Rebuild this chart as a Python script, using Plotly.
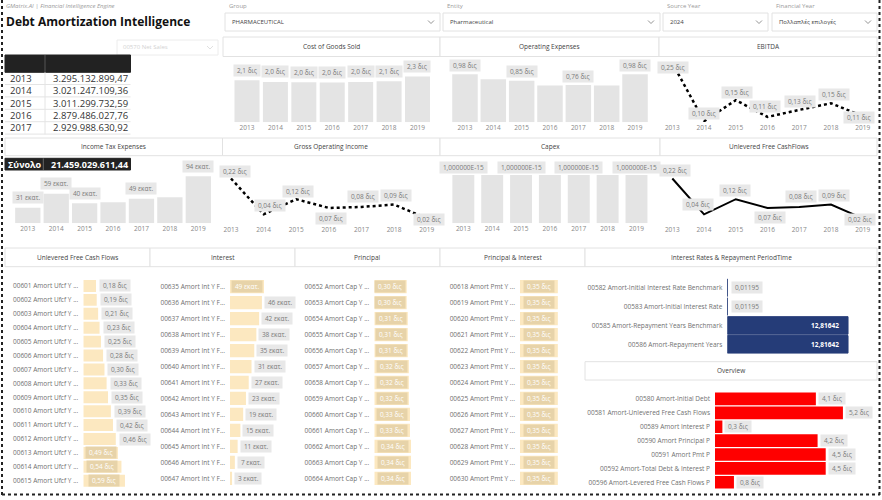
import plotly.graph_objects as go

W, H = 882, 500
FONT = "Open Sans"


def px(x):
    return x / W


def py(y):
    return 1 - y / H


# ---------------- DATA ----------------
years = ["2013", "2014", "2015", "2016", "2017", "2018", "2019"]
year_nums = [2013, 2014, 2015, 2016, 2017, 2018, 2019]

table_years = ["2013", "2014", "2015", "2016", "2017"]
table_values = [3295132899.47, 3021247109.36, 3011299732.59, 2879486027.76, 2929988630.92]
table_total = 21459029611.44

cogs = [2.12, 2.04, 2.02, 2.01, 2.04, 2.08, 2.31]            # δις
opex = [0.98, 0.88, 0.85, 0.75, 0.76, 0.75, 0.98]            # δις
ebitda = [0.25, 0.101, 0.155, 0.112, 0.13, 0.147, 0.114]     # δις
income_tax = [31, 59, 40, 42, 49, 52, 94]                    # εκατ.
gross_op_income = [0.22, 0.04, 0.116, 0.072, 0.077, 0.089, 0.02]  # δις
capex = [1e-15, 1e-15, 1e-15, 1e-15, 1e-15, 1e-15, 1e-15]
ufcf_year = [0.22, 0.04, 0.116, 0.072, 0.077, 0.089, 0.02]   # δις

ufcf_cats = ["00601 Amort Ufcf Y ...", "00602 Amort Ufcf Y ...", "00603 Amort Ufcf Y ...",
             "00604 Amort Ufcf Y ...", "00605 Amort Ufcf Y ...", "00606 Amort Ufcf Y ...",
             "00607 Amort Ufcf Y ...", "00608 Amort Ufcf Y ...", "00609 Amort Ufcf Y ...",
             "00610 Amort Ufcf Y ...", "00611 Amort Ufcf Y ...", "00612 Amort Ufcf Y ...",
             "00613 Amort Ufcf Y ...", "00614 Amort Ufcf Y ...", "00615 Amort Ufcf Y ..."]
ufcf_vals = [0.18, 0.19, 0.21, 0.23, 0.25, 0.28, 0.30, 0.33, 0.35, 0.39, 0.42, 0.46, 0.49, 0.54, 0.59]

int_cats = ["00635 Amort Int Y F...", "00636 Amort Int Y F...", "00637 Amort Int Y F...",
            "00638 Amort Int Y F...", "00639 Amort Int Y F...", "00640 Amort Int Y F...",
            "00641 Amort Int Y F...", "00642 Amort Int Y F...", "00643 Amort Int Y F...",
            "00644 Amort Int Y F...", "00645 Amort Int Y F...", "00646 Amort Int Y F...",
            "00647 Amort Int Y F..."]
int_vals = [49, 46, 42, 38, 35, 31, 27, 23, 19, 15, 11, 7, 3]  # εκατ.

prin_cats = ["00652 Amort Cap Y ...", "00653 Amort Cap Y ...", "00654 Amort Cap Y ...",
             "00655 Amort Cap Y ...", "00656 Amort Cap Y ...", "00657 Amort Cap Y ...",
             "00658 Amort Cap Y ...", "00659 Amort Cap Y ...", "00660 Amort Cap Y ...",
             "00661 Amort Cap Y ...", "00662 Amort Cap Y ...", "00663 Amort Cap Y ...",
             "00664 Amort Cap Y ..."]
prin_vals = [0.30, 0.30, 0.31, 0.31, 0.31, 0.32, 0.32, 0.32, 0.33, 0.33, 0.34, 0.34, 0.34]

pi_cats = ["00618 Amort Pmt Y ...", "00619 Amort Pmt Y ...", "00620 Amort Pmt Y ...",
           "00621 Amort Pmt Y ...", "00622 Amort Pmt Y ...", "00623 Amort Pmt Y ...",
           "00624 Amort Pmt Y ...", "00625 Amort Pmt Y ...", "00626 Amort Pmt Y ...",
           "00627 Amort Pmt Y ...", "00628 Amort Pmt Y ...", "00629 Amort Pmt Y ...",
           "00630 Amort Pmt Y ..."]
pi_vals = [0.35, 0.35, 0.35, 0.35, 0.35, 0.35, 0.35, 0.35, 0.35, 0.35, 0.35, 0.35, 0.35]

rate_cats = ["00582 Amort-Initial Interest Rate Benchmark", "00583 Amort-Initial Interest Rate",
             "00585 Amort-Repayment Years Benchmark", "00586 Amort-Repayment Years"]
rate_vals = [0.01195, 0.01195, 12.81642, 12.81642]

ov_cats = ["00580 Amort-Initial Debt", "00581 Amort-Unlevered Free Cash Flows",
           "00589 Amort Interest P", "00590 Amort Principal P", "00591 Amort Pmt P",
           "00592 Amort-Total Debt & Interest P", "00596 Amort-Levered Free Cash Flows P"]
ov_vals = [4.1, 5.2, 0.3, 4.17, 4.5, 4.5, 0.77]  # δις

# ---------------- STYLE ----------------
GRAY_BAR = "#e4e4e4"
LBL_BG = "#e8e8e8"
LBL_FG = "#7a7a7a"
TAN = "#fce8c0"
TAN_DARK = "#e7d3a9"
NAVY = "#253c78"
RED = "#ff0000"
NB = "&nbsp;"


def gr(v, d):
    s = f"{v:,.{d}f}"
    return s.replace(",", "X").replace(".", ",").replace("X", ".")


def bn(v, d=2):
    return gr(v, d) + " δις"


def mn(v):
    return gr(v, 0) + " εκατ."


fig = go.Figure()
shapes = []
annotations = []
axn = [0]


def axes(x0, x1, y0, y1, xopt, yopt):
    axn[0] += 1
    n = axn[0]
    sx = "" if n == 1 else str(n)
    base = dict(showgrid=False, zeroline=False, showline=False, ticks="", fixedrange=True)
    xa = dict(base, domain=[px(x0), px(x1)], anchor="y" + sx, **xopt)
    ya = dict(base, domain=[py(y1), py(y0)], anchor="x" + sx, **yopt)
    fig.update_layout({"xaxis" + sx: xa, "yaxis" + sx: ya})
    return "x" + sx, "y" + sx


def rect(x0, y0, x1, y1, line="#e2e2e2", fill="white", width=1, layer="below"):
    shapes.append(dict(type="rect", xref="paper", yref="paper", x0=px(x0), x1=px(x1),
                       y0=py(y1), y1=py(y0), line=dict(color=line, width=width),
                       fillcolor=fill, layer=layer))


def line(x0, y0, x1, y1, color="#e2e2e2", width=1, dash=None, layer="above"):
    ln = dict(color=color, width=width)
    if dash:
        ln["dash"] = dash
    shapes.append(dict(type="line", xref="paper", yref="paper", x0=px(x0), x1=px(x1),
                       y0=py(y0), y1=py(y1), line=ln, layer=layer))


def text(x, y, s, size=6.5, color="#444", xanchor="center", yanchor="middle", bold=False,
         italic=False, family=FONT):
    t = s
    if bold:
        t = "<b>" + t + "</b>"
    if italic:
        t = "<i>" + t + "</i>"
    annotations.append(dict(xref="paper", yref="paper", x=px(x), y=py(y), text=t, showarrow=False,
                            font=dict(size=size, color=color, family=family),
                            xanchor=xanchor, yanchor=yanchor))


def chevron(cx, cy, color="#777", s=3):
    path = (f"M {px(cx - s)},{py(cy - s / 2)} L {px(cx)},{py(cy + s / 2)} "
            f"L {px(cx + s)},{py(cy - s / 2)}")
    shapes.append(dict(type="path", xref="paper", yref="paper", path=path,
                       line=dict(color=color, width=0.8)))


def header(x0, y0, x1, y1, title):
    rect(x0, y0, x1, y1)
    text((x0 + x1) / 2, (y0 + y1) / 2, title, size=6.5, color="#444")


def lab(xr, yr, x, y, s, xshift=0, yshift=0, xanchor="center", yanchor="middle",
        bg=LBL_BG, fg=LBL_FG, size=6.5, bold=False):
    t = NB + s + NB
    if bold:
        t = "<b>" + t + "</b>"
    annotations.append(dict(xref=xr, yref=yr, x=x, y=y, text=t,
                            showarrow=False, xshift=xshift, yshift=yshift,
                            xanchor=xanchor, yanchor=yanchor, bgcolor=bg, borderpad=1.2,
                            font=dict(size=size, color=fg, family=FONT)))


YEAR_FONT = dict(size=6.5, color="#888", family=FONT)


def vbar(x0, x1, y0, y1, vals, ymax, width, show, fmt, yshift=10):
    xr, yr = axes(x0, x1, y0, y1,
                  dict(type="category", range=[-0.5, 6.5], showticklabels=True, tickfont=YEAR_FONT),
                  dict(range=[0, ymax], showticklabels=False))
    fig.add_trace(go.Bar(x=years, y=vals, xaxis=xr, yaxis=yr, width=width,
                         marker=dict(color=GRAY_BAR, line=dict(width=0)), hoverinfo="skip"))
    for i, (v, sh) in enumerate(zip(vals, show)):
        if sh:
            # category axes: annotation x is the category's serial index
            lab(xr, yr, i, v, fmt(v), yshift=yshift)


def vline(x0, x1, y0, y1, vals, xrange_, yrange_, dash, width, shifts):
    xr, yr = axes(x0, x1, y0, y1,
                  dict(range=xrange_, tickvals=year_nums, ticktext=years, showticklabels=True,
                       tickfont=YEAR_FONT),
                  dict(range=yrange_, showticklabels=False))
    fig.add_trace(go.Scatter(x=year_nums, y=vals, xaxis=xr, yaxis=yr, mode="lines",
                             line=dict(color="black", width=width, dash=dash), hoverinfo="skip"))
    for xv, v, (xs, ys) in zip(year_nums, vals, shifts):
        lab(xr, yr, xv, v, bn(v), xshift=xs, yshift=ys)


def hbar(x0, x1, y0, y1, cats, vals, xmax, width, color, tickfont, standoff=4):
    n = len(cats)
    xr, yr = axes(x0, x1, y0, y1,
                  dict(range=[0, xmax], showticklabels=False),
                  dict(type="category", range=[n - 0.5, -0.5], showticklabels=True,
                       tickfont=tickfont, ticklabelstandoff=standoff))
    fig.add_trace(go.Bar(x=vals, y=cats, orientation="h", xaxis=xr, yaxis=yr, width=width,
                         marker=dict(color=color, line=dict(width=0)), hoverinfo="skip"))
    return xr, yr


# ---------------- FRAME / HEADER ----------------
line(2, 0, 2, 495, color="#222", width=2, dash="dot")
line(2, 494.5, 880, 494.5, color="#222", width=2, dash="dot")
line(879.5, 0, 879.5, 495, color="#222", width=2, dash="dot")

text(4, 6, "GMatrix.AI | Financial Intelligence Engine", size=6, color="#9a9a9a",
     xanchor="left", italic=True)
text(4, 21, "Debt Amortization Intelligence", size=12, color="#111", xanchor="left", bold=True)

# filter slicers
filters = [("Group", "PHARMACEUTICAL", 225, 440),
           ("Entity", "Pharmaceutical", 443, 660),
           ("Source Year", "2024", 663, 768),
           ("Financial Year", "Πολλαπλές επιλογές", 772, 877)]
for lbl, val, x0, x1 in filters:
    text(x0 + 2, 6, lbl, size=6, color="#9a9a9a", xanchor="left")
    rect(x0, 13, x1, 31, line="#e2e2e2")
    text(x0 + 5, 22, val, size=6, color="#444", xanchor="left")
    chevron(x1 - 9, 22)

# faded slicer
rect(117, 40, 218, 55, line="#ececec")
text(121, 47.5, "00570 Net Sales", size=6, color="#d2d2d2", xanchor="left")
chevron(210, 47.5, color="#d8d8d8")

# ---------------- TABLE ----------------
rect(5, 55, 130.5, 72.3, line="#222", fill="#222", layer="above")
line(45, 55, 45, 72.3, color="#555", width=1)
row_h = 12.4
for i, (yv, v) in enumerate(zip(table_years, table_values)):
    yc = 78.3 + i * row_h
    text(8, yc, yv, size=9.5, color="#333", xanchor="left")
    text(129.5, yc, gr(v, 2), size=9.5, color="#333", xanchor="right")
    line(5, yc + 6.2, 130.5, yc + 6.2, color="#e4e4e4")
line(45, 72.3, 45, 134.3, color="#e4e4e4")

# ---------------- HEADERS ----------------
header(223, 37, 440, 56.5, "Cost of Goods Sold")
header(440, 37, 659, 56.5, "Operating Expenses")
header(659, 37, 877, 56.5, "EBITDA")
header(5, 138, 222.5, 155.7, "Income Tax Expenses")
header(222.5, 138, 440, 155.7, "Gross Operating Income")
header(440, 138, 660, 155.7, "Capex")
header(660, 138, 877, 155.7, "Unlevered Free CashFlows")
header(5, 248, 150, 266.7, "Unlevered Free Cash Flows")
header(150, 248, 295, 266.7, "Interest")
header(295, 248, 440, 266.7, "Principal")
header(440, 248, 585, 266.7, "Principal & Interest")
header(585, 248, 877, 266.7, "Interest Rates & Repayment PeriodTime")
header(585, 361.7, 877, 380, "Overview")

# ---------------- TOP ROW CHARTS ----------------
vbar(232.8, 431.7, 58, 122.3, cogs, 3.25, 0.88, [True] * 7, lambda v: bn(v, 1))
vbar(450.8, 649.2, 58, 122.3, opex, 1.312, 0.9,
     [True, False, True, False, True, False, True], lambda v: bn(v, 2), yshift=9)
vline(659, 877, 56, 122, ebitda, [2012.58, 2019.45], [0.099, 0.268], "dot", 2.5,
      [(1, -4), (0, 8), (1, 8), (-3, 10), (1, 8), (3, 9), (-4, -1)])

# ---------------- SECOND ROW CHARTS ----------------
vbar(13.6, 212.5, 158, 223.3, income_tax, 130.6, 0.89,
     [True, True, True, False, True, False, True], mn, yshift=10)
vline(222, 440, 160, 224, gross_op_income, [2012.724, 2019.408], [-0.0086, 0.313], "dot", 2.5,
      [(4, 7), (6, 9), (2, 8), (2, -11), (2, 10), (2, 9), (2, -1)])
vbar(448.9, 650.9, 158, 223.3, capex, 1.35e-15, 0.76,
     [True, False, True, False, True, False, True],
     lambda v: f"{v:.6E}".replace(".", ","), yshift=7)
vline(659, 877, 160, 224, ufcf_year, [2012.58, 2019.45], [-0.0086, 0.313], "solid", 2,
      [(3, 8), (-6, 10), (-1, 9), (2, -10), (2, 10), (3, 9), (-3, -1)])

# total row (drawn above the income tax chart)
rect(5, 158.3, 130.5, 170, line="#222", fill="#222", layer="above")
line(43.3, 158.3, 43.3, 170, color="#666")
text(6, 164.2, "Σύνολο", size=9, color="white", xanchor="left", bold=True)
text(129.5, 164.2, gr(table_total, 2), size=9, color="white", xanchor="right", bold=True)

# ---------------- BOTTOM LISTS ----------------
LIST_FONT = dict(size=6.5, color="#707070", family=FONT)

xr, yr = hbar(83.3, 148, 279, 487.7, ufcf_cats, ufcf_vals, 0.916, 0.86, TAN, LIST_FONT)
for c, v in zip(ufcf_cats, ufcf_vals):
    if v >= 0.48:
        lab(xr, yr, v / 2, c, bn(v), bg=TAN_DARK, fg="white")
    else:
        lab(xr, yr, v, c, bn(v), xanchor="left", xshift=3)

xr, yr = hbar(230, 293, 278.7, 486.3, int_cats, int_vals, 90.8, 0.83, TAN, LIST_FONT)
for c, v in zip(int_cats, int_vals):
    if v >= 48:
        lab(xr, yr, v / 2, c, mn(v), bg=TAN_DARK, fg="white")
    else:
        lab(xr, yr, v, c, mn(v), xanchor="left", xshift=2)

xr, yr = hbar(374.3, 438, 278.7, 486.3, prin_cats, prin_vals, 0.59, 0.83, TAN, LIST_FONT)
for c, v in zip(prin_cats, prin_vals):
    lab(xr, yr, v / 2, c, bn(v), bg=TAN_DARK, fg="white")

xr, yr = hbar(520, 583, 278.7, 486.3, pi_cats, pi_vals, 0.583, 0.83, TAN, LIST_FONT)
for c, v in zip(pi_cats, pi_vals):
    lab(xr, yr, v / 2, c, bn(v), bg=TAN_DARK, fg="white")

# interest rates & repayment
RATE_FONT = dict(size=6.5, color="#707070", family=FONT)
xr, yr = axes(727.3, 875, 278.2, 353.8,
              dict(range=[0, 15.68], showticklabels=False),
              dict(type="category", range=[3.5, -0.5], showticklabels=True, tickfont=RATE_FONT,
                   ticklabelstandoff=4))
fig.add_trace(go.Bar(x=rate_vals, y=rate_cats, orientation="h", xaxis=xr, yaxis=yr, width=0.93,
                     marker=dict(color=NAVY, line=dict(color=NAVY, width=1)), hoverinfo="skip"))
for c, v in zip(rate_cats, rate_vals):
    s = gr(v, 5)
    if v > 1:
        annotations.append(dict(xref=xr, yref=yr, x=v, y=c, text="<b>" + s + "</b>", showarrow=False,
                                xanchor="right", xshift=-7,
                                font=dict(size=6.5, color="white", family=FONT)))
    else:
        lab(xr, yr, v, c, s, xanchor="left", xshift=4)

# overview
xr, yr = axes(715, 877, 392, 489.2,
              dict(range=[0, 6.585], showticklabels=False),
              dict(type="category", range=[6.5, -0.5], showticklabels=True, tickfont=RATE_FONT,
                   ticklabelstandoff=4))
fig.add_trace(go.Bar(x=ov_vals, y=ov_cats, orientation="h", xaxis=xr, yaxis=yr, width=0.91,
                     marker=dict(color=RED, line=dict(width=0)), hoverinfo="skip"))
for c, v in zip(ov_cats, ov_vals):
    lab(xr, yr, v, c, bn(v, 1), xanchor="left", xshift=2)

fig.update_layout(
    width=W, height=H, margin=dict(l=0, r=0, t=0, b=0),
    paper_bgcolor="white", plot_bgcolor="rgba(0,0,0,0)",
    showlegend=False, font=dict(family=FONT, size=7, color="#444"),
    shapes=shapes, annotations=annotations,
)

fig.write_html("out.html", config={"displayModeBar": False})
